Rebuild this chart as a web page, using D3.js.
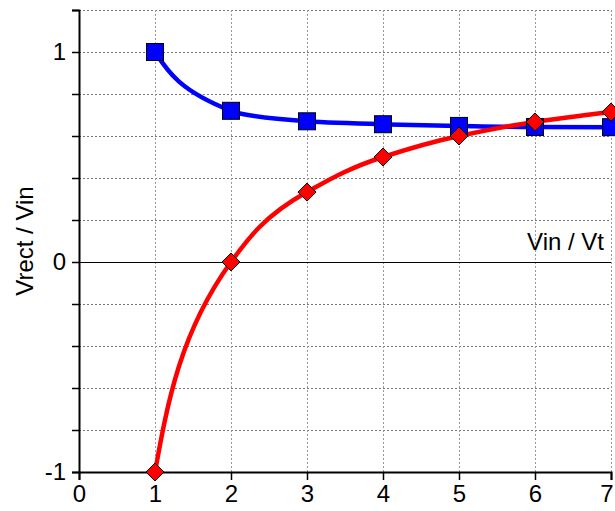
<!DOCTYPE html>
<html>
<head>
<meta charset="utf-8">
<script src="https://cdn.jsdelivr.net/npm/d3@7"></script>
<style>
  body { margin: 0; background: #fff; }
  svg text { font-family: "Liberation Sans", Arial, sans-serif; }
</style>
</head>
<body>
<svg id="chart" width="615" height="511"></svg>
<script>
// data
var xs = [1, 2, 3, 4, 5, 6, 7];
var blueVals = [1, 0.72, 0.67, 0.656, 0.648, 0.643, 0.642];
var redVals = [-1, 0, 0.333, 0.5, 0.6, 0.667, 0.714];
var xTicks = [0, 1, 2, 3, 4, 5, 6, 7];
var yTicks = [-1, -0.8, -0.6, -0.4, -0.2, 0, 0.2, 0.4, 0.6, 0.8, 1, 1.2];
var yLabels = [-1, 0, 1];

var svg = d3.select("#chart");

var x = d3.scaleLinear().domain([0, 7]).range([79, 611]);
var y = d3.scaleLinear().domain([-1, 1.2]).range([472, 10]);

// grid
svg.append("g").selectAll("line")
  .data(yTicks.filter(function(d) { return d !== -1 && d !== 0; }))
  .enter().append("line")
    .attr("x1", x(0)).attr("x2", x(7))
    .attr("y1", function(d) { return y(d) + 0.5; })
    .attr("y2", function(d) { return y(d) + 0.5; })
    .attr("stroke", "#777").attr("stroke-width", 1)
    .attr("stroke-dasharray", "2,2");

svg.append("g").selectAll("line")
  .data(xTicks.filter(function(d) { return d > 0; }))
  .enter().append("line")
    .attr("x1", function(d) { return Math.round(x(d)) + 0.5; })
    .attr("x2", function(d) { return Math.round(x(d)) + 0.5; })
    .attr("y1", y(1.2)).attr("y2", y(-1))
    .attr("stroke", "#999").attr("stroke-width", 1)
    .attr("stroke-dasharray", "2,2");

// zero line
svg.append("line")
  .attr("x1", x(0)).attr("x2", x(7))
  .attr("y1", y(0) + 0.5).attr("y2", y(0) + 0.5)
  .attr("stroke", "#000").attr("stroke-width", 1);

// axes
var xAxis = d3.axisBottom(x).tickValues(xTicks).tickSize(8).tickPadding(5)
  .tickFormat(d3.format("d"));
var gx = svg.append("g").attr("transform", "translate(0," + y(-1) + ")").call(xAxis);
gx.select(".domain").attr("stroke", "#000").attr("stroke-width", 2);
gx.selectAll(".tick line").attr("stroke-width", 1.5);
gx.selectAll("text").attr("font-size", 24).attr("fill", "#000")
  .attr("font-family", "Liberation Sans, Arial, sans-serif");
gx.selectAll(".tick").filter(function(d) { return d === 7; }).select("text")
  .attr("text-anchor", "end").attr("dx", 2);

var yAxis = d3.axisLeft(y).tickValues(yTicks).tickSize(7).tickPadding(6)
  .tickFormat(function(d) { return yLabels.indexOf(d) >= 0 ? d3.format("d")(d) : ""; });
var gy = svg.append("g").attr("transform", "translate(" + x(0) + ",0)").call(yAxis);
gy.select(".domain").attr("stroke", "#000").attr("stroke-width", 2);
gy.selectAll(".tick line").attr("stroke-width", 1.5);
gy.selectAll("text").attr("font-size", 24).attr("fill", "#000")
  .attr("font-family", "Liberation Sans, Arial, sans-serif");
gy.selectAll("text").text(function(d) { return d === -1 ? "-1" : (yLabels.indexOf(d) >= 0 ? d : ""); });

// axis titles
svg.append("text")
  .attr("x", 604).attr("y", 250)
  .attr("text-anchor", "end")
  .attr("font-size", 24)
  .text("Vin / Vt");

svg.append("text")
  .attr("transform", "translate(33,241) rotate(-90)")
  .attr("text-anchor", "middle")
  .attr("font-size", 24)
  .text("Vrect / Vin");

// lines
var line = d3.line()
  .x(function(d) { return x(d[0]); })
  .y(function(d) { return y(d[1]); })
  .curve(d3.curveMonotoneY);

var blue = xs.map(function(v, i) { return [v, blueVals[i]]; });
var red = xs.map(function(v, i) { return [v, redVals[i]]; });

svg.append("path").datum(blue).attr("d", line)
  .attr("fill", "none").attr("stroke", "#0000ff").attr("stroke-width", 4.5);
svg.append("path").datum(red).attr("d", line)
  .attr("fill", "none").attr("stroke", "#ff0000").attr("stroke-width", 4.5);

// markers
svg.append("g").selectAll("rect")
  .data(blue)
  .enter().append("rect")
    .attr("x", function(d) { return x(d[0]) - 8.5; })
    .attr("y", function(d) { return y(d[1]) - 8.5; })
    .attr("width", 17).attr("height", 17)
    .attr("fill", "#0000ff").attr("stroke", "#000").attr("stroke-width", 1);

svg.append("g").selectAll("path")
  .data(red)
  .enter().append("path")
    .attr("d", "M0,-9L9,0L0,9L-9,0Z")
    .attr("transform", function(d) { return "translate(" + x(d[0]) + "," + y(d[1]) + ")"; })
    .attr("fill", "#ff0000").attr("stroke", "#000").attr("stroke-width", 1);
</script>
</body>
</html>
